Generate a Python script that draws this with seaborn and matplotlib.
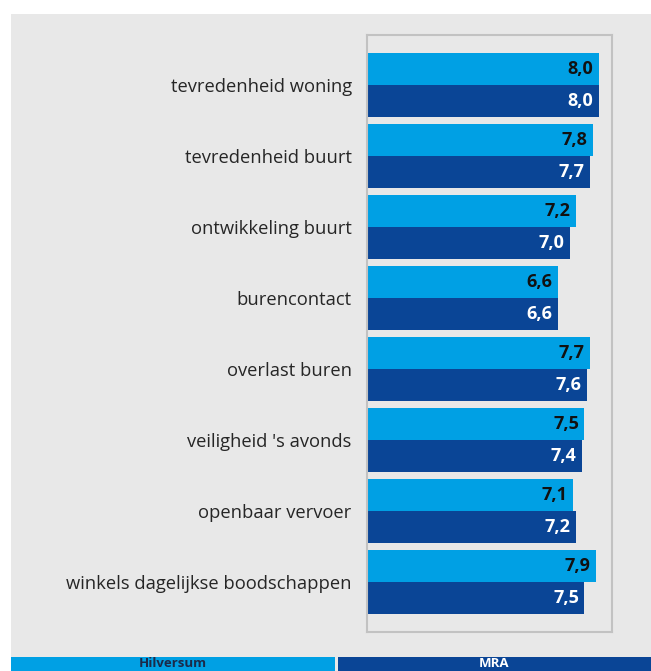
import matplotlib
matplotlib.use("Agg")
import matplotlib.pyplot as plt
from matplotlib.patches import Rectangle
import seaborn as sns
import pandas as pd

categories = ["tevredenheid woning", "tevredenheid buurt", "ontwikkeling buurt",
              "burencontact", "overlast buren", "veiligheid 's avonds",
              "openbaar vervoer", "winkels dagelijkse boodschappen"]
series_names = ["Hilversum", "MRA"]
hilversum = [8.0, 7.8, 7.2, 6.6, 7.7, 7.5, 7.1, 7.9]
mra = [8.0, 7.7, 7.0, 6.6, 7.6, 7.4, 7.2, 7.5]

light = "#00a0e4"
dark = "#0a4596"
bg = "#e8e8e8"
colors = [light, dark]
label_colors = ["#111111", "white"]

df = pd.DataFrame({
    "categorie": categories * 2,
    "reeks": [series_names[0]] * len(categories) + [series_names[1]] * len(categories),
    "waarde": hilversum + mra,
})

sns.set_theme(style="white")
plt.rcParams["font.family"] = ["Open Sans", "DejaVu Sans"]

W, H = 651, 671
fig = plt.figure(figsize=(W / 100, H / 100), dpi=100, facecolor="white")
fig.add_artist(Rectangle((11 / W, 0), 1 - 11 / W, 1 - 14 / H, transform=fig.transFigure,
                         facecolor=bg, edgecolor="none", zorder=-10))

ax_l, ax_r, ax_t, ax_b = 367, 612, 35, 632
ax = fig.add_axes([ax_l / W, 1 - ax_b / H, (ax_r - ax_l) / W, (ax_b - ax_t) / H])
ax.set_facecolor(bg)

sns.barplot(data=df, y="categorie", x="waarde", hue="reeks", order=categories,
            hue_order=series_names, palette=colors, orient="h", width=0.9,
            linewidth=0, saturation=1, legend=False, ax=ax)

ax.set_xlim(0, 8.45)
ax.set_ylim(7.7, -0.7)
ax.set_xlabel("")
ax.set_ylabel("")
ax.set_xticks([])
ax.tick_params(axis="y", length=0, pad=11, labelsize=13.2, labelcolor="#262626")
for s in ax.spines.values():
    s.set_color("#c2c2c2")
    s.set_linewidth(1.5)

vals = [hilversum, mra]
for cont, v, c in zip(ax.containers, vals, label_colors):
    for bar, val in zip(cont, v):
        ax.annotate(f"{val:.1f}".replace(".", ","),
                    xy=(bar.get_width(), bar.get_y() + bar.get_height() / 2),
                    xytext=(-4, 0), textcoords="offset points",
                    ha="right", va="center", color=c, fontsize=13, fontweight="bold")

# legend bars at the bottom
leg_top = 657
boxes = [(11, 335), (338, 651)]
text_cols = ["#1b2a4a", "white"]
for (x0, x1), name, col, tc in zip(boxes, series_names, colors, text_cols):
    fig.add_artist(Rectangle((x0 / W, 0), (x1 - x0) / W, (H - leg_top) / H,
                             transform=fig.transFigure, facecolor=col, edgecolor="none"))
    fig.text((x0 + x1) / 2 / W, 1 / H, name, ha="center", va="bottom",
             color=tc, fontsize=9.5, fontweight="bold")

fig.savefig("out.png", dpi=100, facecolor="white")
